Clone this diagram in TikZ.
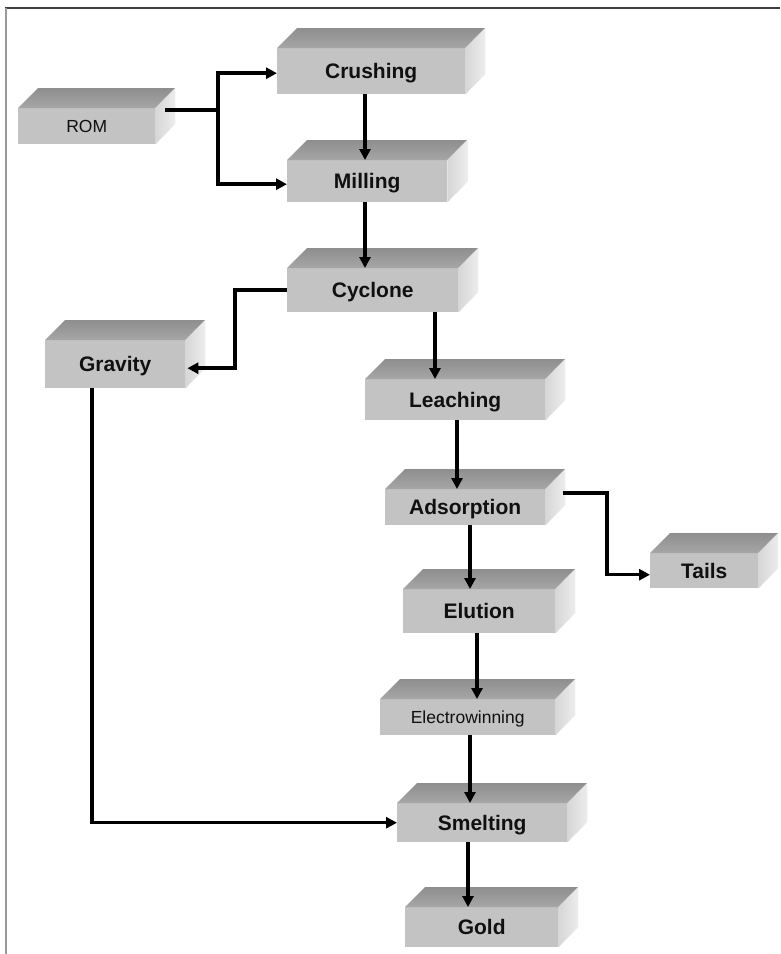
\documentclass[tikz,border=0pt]{standalone}
\usepackage{fontspec}
\setmainfont{Liberation Sans}
\usetikzlibrary{arrows.meta,calc}
\definecolor{frontc}{HTML}{C3C3C3}
\definecolor{topdark}{HTML}{8E8E8E}
\definecolor{toplight}{HTML}{A6A6A6}
\definecolor{sidel}{HTML}{D6D6D6}
\definecolor{sider}{HTML}{EDEDED}
\definecolor{txt}{HTML}{101010}
\newcommand\procbox[7]{%
  \node[front,#7,minimum width={(#4-#2)*1pt},minimum height={(#5-#3)*1pt}] (#1) at (#2,#3) {#6};
  \shade[top color=topdark,bottom color=toplight] (#1.north west) -- ++(20,-20) -- ++({#4-#2},0) -- (#1.north east) -- cycle;
  \shade[left color=sidel,right color=sider] (#1.north east) -- ++(20,-20) -- ++(0,{#5-#3}) -- (#1.south east) -- cycle;
}
\begin{document}
\begin{tikzpicture}[x=1pt,y=-1pt,
  front/.style={fill=frontc,draw=none,inner sep=0pt,anchor=north west,text=txt,
    font=\bfseries\fontsize{21}{21}\selectfont,text height=15pt,text depth=0pt},
  smalltext/.style={font=\fontsize{17.5}{17.5}\selectfont,text height=12.5pt,text depth=0pt},
  plain/.style={},
  flowline/.style={line width=3.5pt,draw=black},
  flow/.style={flowline,-{Triangle[length=11pt,width=11pt]}}]
\useasboundingbox (0,0) rectangle (780,954);
% frame
\draw[line width=2.5pt,draw=black!75] (5,8) -- (780,8);
\draw[line width=2.5pt,draw=black!40] (6,8) -- (6,954);
% boxes
\procbox{rom}{18}{108}{155}{144}{ROM}{smalltext}
\procbox{crushing}{277}{48}{465}{94}{Crushing}{plain}
\procbox{milling}{287}{160}{447}{202}{Milling}{plain}
\procbox{cyclone}{287}{268}{458}{312}{Cyclone}{plain}
\procbox{gravity}{45}{340}{185}{388}{Gravity}{plain}
\procbox{leaching}{365}{379}{545}{420}{Leaching}{plain}
\procbox{adsorption}{385}{489}{545}{525}{Adsorption}{plain}
\procbox{tails}{650}{553}{758}{588}{Tails}{plain}
\procbox{elution}{403}{589}{555}{633}{Elution}{plain}
\procbox{ew}{380}{699}{555}{735}{Electrowinning}{smalltext}
\procbox{smelting}{397}{803}{567}{842}{Smelting}{plain}
\procbox{gold}{405}{907}{558}{947}{Gold}{plain}
% connectors
\coordinate (romout) at ($(rom.north east)+(10,2)$);
\coordinate (rj) at (218,0 |- romout);
\draw[flowline] (romout) -- (rj);
\draw[flow] (rj) |- ($(crushing.west)+(0,2)$);
\draw[flow] (rj) |- ($(milling.west)+(0,3)$);
\draw[flow] (365,0 |- crushing.south) -- (365,0 |- milling.north);
\draw[flow] (365,0 |- milling.south) -- (365,0 |- cyclone.north);
\draw[flow] (cyclone.west) -- (235,0 |- cyclone.west) |- ($(gravity.east)+(2,4)$);
\draw[flow] (435,0 |- cyclone.south) -- (435,0 |- leaching.north);
\draw[flow] (457,0 |- leaching.south) -- (457,0 |- adsorption.north);
\coordinate (adsout) at ($(adsorption.north east)+(18,4)$);
\draw[flow] (adsout) -- (607,0 |- adsout) |- ($(tails.west)+(0,4)$);
\draw[flow] (470,0 |- adsorption.south) -- (470,0 |- elution.north);
\draw[flow] (477,0 |- elution.south) -- (477,0 |- ew.north);
\draw[flow] (470,0 |- ew.south) -- (470,0 |- smelting.north);
\draw[flow] (468,0 |- smelting.south) -- (468,0 |- gold.north);
\draw[flow] (92,0 |- gravity.south) |- (smelting.west);
\end{tikzpicture}
\end{document}
